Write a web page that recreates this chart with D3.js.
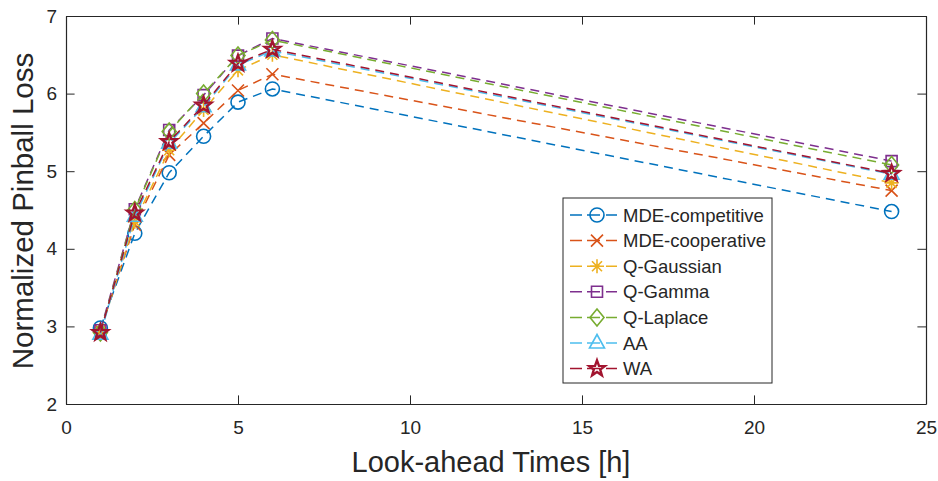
<!DOCTYPE html>
<html><head><meta charset="utf-8">
<script src="https://cdn.jsdelivr.net/npm/d3@7"></script>
<style>
body{margin:0;background:#fff}
text{font-family:'Liberation Sans',Arial,Helvetica,sans-serif;fill:#262626}
</style>
</head><body>
<svg id="c" width="938" height="481"></svg>
<script>
// ---- data ----
const hours = [1, 2, 3, 4, 5, 6, 24];
const mdeCompetitive  = [2.98, 4.20, 4.98, 5.45, 5.89, 6.06, 4.48];
const mdeCooperative  = [2.95, 4.31, 5.21, 5.62, 6.04, 6.25, 4.75];
const qGaussian       = [2.93, 4.35, 5.27, 5.79, 6.30, 6.50, 4.85];
const qGamma          = [2.95, 4.51, 5.53, 5.98, 6.49, 6.71, 5.13];
const qLaplace        = [2.92, 4.50, 5.51, 6.00, 6.49, 6.69, 5.08];
const aa              = [2.90, 4.42, 5.36, 5.83, 6.37, 6.55, 4.96];
const wa              = [2.92, 4.46, 5.38, 5.85, 6.39, 6.57, 4.97];
const seriesNames  = ["MDE-competitive","MDE-cooperative","Q-Gaussian","Q-Gamma","Q-Laplace","AA","WA"];
const seriesValues = [mdeCompetitive, mdeCooperative, qGaussian, qGamma, qLaplace, aa, wa];
const seriesColors = ["#0072BD","#D95319","#EDB120","#7E2F8E","#77AC30","#4DBEEE","#A2142F"];
const seriesMarkers = ["circle","x","asterisk","square","diamond","triangle","star"];
const xTicks = [0, 5, 10, 15, 20, 25];
const yTicks = [2, 3, 4, 5, 6, 7];

// ---- layout ----
const svg = d3.select("#c");
const L = 66, R = 926, T = 16, B = 404;
const x = d3.scaleLinear().domain([0, 25]).range([L, R]);
const y = d3.scaleLinear().domain([2, 7]).range([B, T]);
const tick = 8.6;
const axisColor = "#262626";

function styleAxis(g){
  g.select(".domain").attr("stroke", axisColor).attr("stroke-width", 1.2);
  g.selectAll(".tick line").attr("stroke", axisColor).attr("stroke-width", 1);
  g.selectAll(".tick text").attr("fill", axisColor).style("font-size", "19px")
    .style("font-family", "'Liberation Sans',Arial,sans-serif");
}

svg.append("g").attr("transform", `translate(0,${B})`)
  .call(d3.axisBottom(x).tickValues(xTicks).tickFormat(d3.format("d"))
    .tickSizeInner(-tick).tickSizeOuter(0).tickPadding(17)).call(styleAxis);
svg.append("g").attr("transform", `translate(0,${T})`)
  .call(d3.axisTop(x).tickValues(xTicks).tickFormat("")
    .tickSizeInner(-tick).tickSizeOuter(0)).call(styleAxis);
svg.append("g").attr("transform", `translate(${L},0)`)
  .call(d3.axisLeft(y).tickValues(yTicks).tickFormat(d3.format("d"))
    .tickSizeInner(-tick).tickSizeOuter(0).tickPadding(9)).call(styleAxis);
svg.append("g").attr("transform", `translate(${R},0)`)
  .call(d3.axisRight(y).tickValues(yTicks).tickFormat("")
    .tickSizeInner(-tick).tickSizeOuter(0)).call(styleAxis);

// axis labels
svg.append("text").attr("x", 491).attr("y", 472)
  .attr("text-anchor", "middle").style("font-size", "29px").text("Look-ahead Times [h]");
svg.append("text").attr("transform", `translate(33,${(T + B) / 2 + 1}) rotate(-90)`)
  .attr("text-anchor", "middle").style("font-size", "29.5px").text("Normalized Pinball Loss");

// ---- markers ----
function starPath(ro, ri){
  let p = "";
  for (let i = 0; i < 10; i++){
    const r = i % 2 ? ri : ro;
    const a = -Math.PI / 2 + i * Math.PI / 5;
    p += (i ? "L" : "M") + (r * Math.cos(a)).toFixed(2) + "," + (r * Math.sin(a)).toFixed(2);
  }
  return p + "Z";
}
function drawMarker(g, type, color){
  const s = g.append("path").attr("fill", "none").attr("stroke", color).attr("stroke-width", 1.6);
  switch(type){
    case "circle":   s.attr("d", d3.symbol().type(d3.symbolCircle).size(Math.PI * 49)()); break;
    case "x":        s.attr("d", "M-6,-6L6,6M-6,6L6,-6"); break;
    case "asterisk": s.attr("d", "M0,-7V7M-7,0H7M-5,-5L5,5M-5,5L5,-5"); break;
    case "square":   s.attr("d", "M-5.5,-5.5H5.5V5.5H-5.5Z"); break;
    case "diamond":  s.attr("d", "M0,-8.5L7,0L0,8.5L-7,0Z"); break;
    case "triangle": s.attr("d", "M0,-8.5L7.5,5L-7.5,5Z"); break;
    case "star":     s.attr("d", starPath(8.3, 3.4)).attr("stroke-width", 2.4); break;
  }
}

// ---- series ----
const line = d3.line().x(d => x(d[0])).y(d => y(d[1]));
seriesValues.forEach((vals, i) => {
  const pts = hours.map((h, j) => [h, vals[j]]);
  const g = svg.append("g");
  g.append("path").attr("d", line(pts)).attr("fill", "none")
    .attr("stroke", seriesColors[i]).attr("stroke-width", 1.5)
    .attr("stroke-dasharray", "9,6");
  pts.forEach(p => {
    const mg = g.append("g").attr("transform", `translate(${x(p[0])},${y(p[1])})`);
    drawMarker(mg, seriesMarkers[i], seriesColors[i]);
  });
});

// ---- legend ----
const lg = svg.append("g");
lg.append("rect").attr("x", 563).attr("y", 198).attr("width", 209).attr("height", 185)
  .attr("fill", "#fff").attr("stroke", axisColor).attr("stroke-width", 1);
seriesNames.forEach((name, i) => {
  const yy = 215 + i * 25.6;
  lg.append("path").attr("d", `M570,${yy}H617`).attr("stroke", seriesColors[i])
    .attr("stroke-width", 1.5).attr("stroke-dasharray", "12,5,13,6,11");
  const mg = lg.append("g").attr("transform", `translate(597,${yy})`);
  drawMarker(mg, seriesMarkers[i], seriesColors[i]);
  lg.append("text").attr("x", 623).attr("y", yy).attr("dy", "0.36em")
    .style("font-size", "18.5px").text(name);
});
</script>
</body></html>
